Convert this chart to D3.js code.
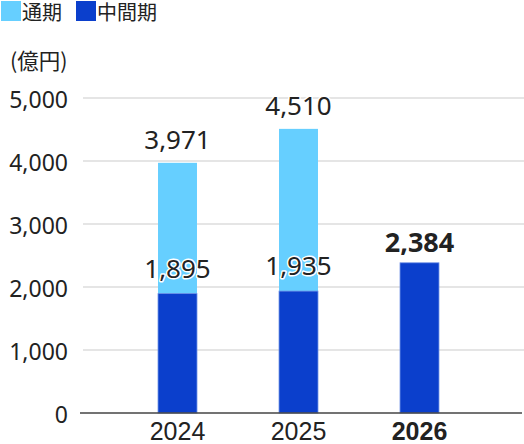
<!DOCTYPE html>
<html><head><meta charset="utf-8">
<script src="https://cdn.jsdelivr.net/npm/d3@7"></script>
<style>
body{margin:0;background:#fff;}
svg{display:block;font-family:"Noto Sans","Noto Sans CJK JP",sans-serif;}
</style></head>
<body>
<svg id="c" width="524" height="444"></svg>
<script>
const years = ["2024","2025","2026"];
const fullYear = [3971, 4510, null];   // 通期
const interim = [1895, 1935, 2384];    // 中間期
const yTicks = [0,1000,2000,3000,4000,5000];
const legendLabels = ["通期","中間期"];
const unitLabel = "(億円)";
const colors = {full:"#66cfff", interim:"#0b3fcc"};

const svg = d3.select("#c");
const y = d3.scaleLinear().domain([0,5000]).range([413,98]);
const x = d3.scaleBand().domain(years).range([117,480]).paddingInner(0.678).paddingOuter(0.339);
const fmt = d3.format(",");

// gridlines
svg.append("g").selectAll("line").data(yTicks.filter(d=>d>0)).join("line")
  .attr("x1",83).attr("x2",524).attr("y1",d=>y(d)).attr("y2",d=>y(d))
  .attr("stroke","#dcdcdc").attr("stroke-width",1.5);

// y axis labels
const ya = svg.append("g").attr("transform","translate(68,0)")
  .call(d3.axisLeft(y).tickValues(yTicks).tickFormat(fmt).tickSize(0).tickPadding(0));
ya.select(".domain").remove();
ya.selectAll("text").attr("font-size",23).attr("fill","#222").attr("dy","0.4em")
  .attr("font-family","'Noto Sans',sans-serif");

// bars
const g = svg.append("g");
years.forEach((yr,i)=>{
  if(fullYear[i]!=null){
    g.append("rect").attr("x",x(yr)).attr("width",x.bandwidth())
      .attr("y",y(fullYear[i])).attr("height",y(0)-y(fullYear[i]))
      .attr("fill",colors.full);
  }
  g.append("rect").attr("x",x(yr)).attr("width",x.bandwidth())
    .attr("y",y(interim[i])).attr("height",y(0)-y(interim[i]))
    .attr("fill",colors.interim).attr("stroke","#6d8fe6").attr("stroke-width",0.8);
});

// axis line
svg.append("line").attr("x1",80).attr("x2",522).attr("y1",y(0)).attr("y2",y(0))
  .attr("stroke","#444").attr("stroke-width",1.5);

// x axis labels
const xa = svg.append("g").attr("transform","translate(0,413)")
  .call(d3.axisBottom(x).tickSize(0).tickPadding(0));
xa.select(".domain").remove();
xa.selectAll("text").attr("font-size",25).attr("fill","#222").attr("dy","1.08em")
  .attr("font-weight",(d,i)=>i===2?"bold":"normal");

// value labels
function label(xc, yv, txt, bold, off){
  svg.append("text").attr("x",xc).attr("y",y(yv)-off).attr("text-anchor","middle")
    .attr("font-size",bold?27:26).attr("font-weight",bold?"bold":"normal")
    .attr("fill","#222").attr("stroke","#fff").attr("stroke-width",3)
    .attr("stroke-linejoin","round").attr("paint-order","stroke").text(txt);
}
years.forEach((yr,i)=>{
  const xc = x(yr)+x.bandwidth()/2;
  if(fullYear[i]!=null){
    label(xc, fullYear[i], fmt(fullYear[i]), false, 14);
    label(xc, interim[i], fmt(interim[i]), false, 16);
  } else {
    label(xc, interim[i], fmt(interim[i]), true, 11);
  }
});

// legend
const leg = [[legendLabels[0],colors.full,1],[legendLabels[1],colors.interim,76]];
leg.forEach(([t,c,lx])=>{
  svg.append("rect").attr("x",lx).attr("y",1).attr("width",20).attr("height",20).attr("fill",c);
  svg.append("text").attr("x",lx+21).attr("y",20).attr("font-size",20).attr("fill","#222")
    .attr("font-family","'Noto Sans CJK JP',sans-serif").text(t);
});
svg.append("text").attr("x",10).attr("y",69).attr("font-size",21.5).attr("fill","#222")
  .attr("font-family","'Noto Sans CJK JP',sans-serif").text(unitLabel);
</script>
</body></html>
